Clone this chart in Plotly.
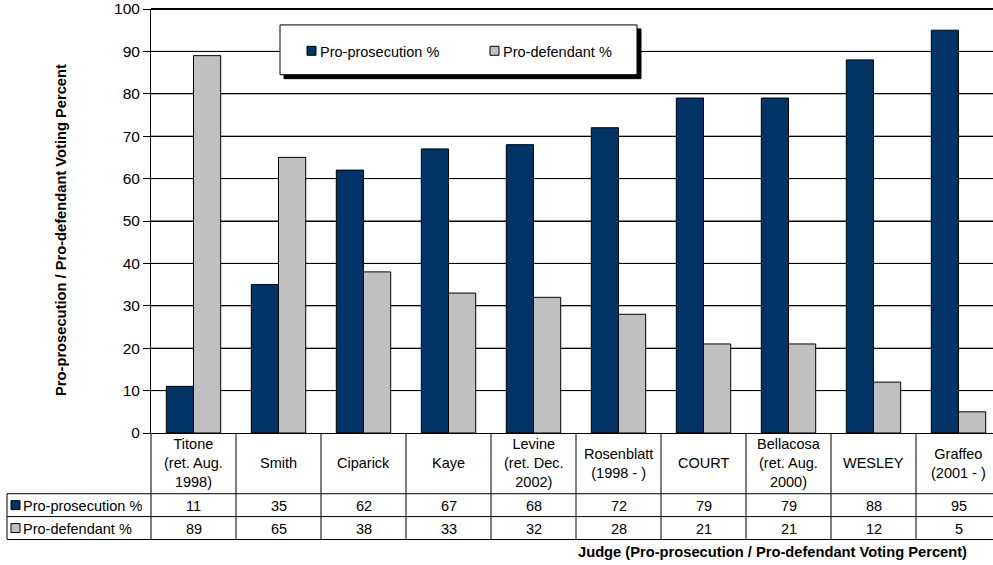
import plotly.graph_objects as go

# Judges and their voting percentages
judges = [
    "Titone<br>(ret. Aug.<br>1998)",
    "Smith",
    "Ciparick",
    "Kaye",
    "Levine<br>(ret. Dec.<br>2002)",
    "Rosenblatt<br>(1998 - )",
    "COURT",
    "Bellacosa<br>(ret. Aug.<br>2000)",
    "WESLEY",
    "Graffeo<br>(2001 - )",
]
pro_prosecution = [11, 35, 62, 67, 68, 72, 79, 79, 88, 95]
pro_defendant = [89, 65, 38, 33, 32, 28, 21, 21, 12, 5]
series_names = ["Pro-prosecution %", "Pro-defendant %"]
series_colors = ["#003366", "#C0C0C0"]
y_max, y_step = 100, 10

FONT = "Liberation Sans, Arial, sans-serif"
W, H = 993, 565
PL, PT, PB = 151, 7, 433          # plot area left / top / bottom in pixels
PR = W                            # plot area right edge
CAT_W = 85.0                      # pixel width of one category
BARGAP = 0.36
n = len(judges)
idx = list(range(n))
x_range = [-0.5, -0.5 + (PR - PL) / CAT_W]


def yp(py):
    """pixel row -> paper y"""
    return (PB - py) / (PB - PT)


def xp(px):
    """pixel column -> paper x"""
    return (px - PL) / (PR - PL)


def x_to_paper(x):
    """category coordinate -> paper x"""
    return (x - x_range[0]) / (x_range[1] - x_range[0])


fig = go.Figure()
for name, vals, col in zip(series_names, [pro_prosecution, pro_defendant], series_colors):
    fig.add_trace(go.Bar(
        x=idx, y=vals, name=name,
        marker=dict(color=col, line=dict(color="#000000", width=1)),
        showlegend=False,
    ))

shapes = []
annotations = []

# value gridlines, broken wherever a bar stands in front of them
half = (1 - BARGAP) / 2
for v in range(y_step, y_max + 1, y_step):
    covered = []
    for i in idx:
        if pro_prosecution[i] > v:
            covered.append((i - half, i))
        if pro_defendant[i] > v:
            covered.append((i, i + half))
    covered.sort()
    segs, start = [], x_range[0]
    for a, b in covered:
        if a > start:
            segs.append((start, a))
        start = max(start, b)
    if start < x_range[1]:
        segs.append((start, x_range[1]))
    for a, b in segs:
        shapes.append(dict(type="line", xref="paper", yref="paper", layer="above",
                           x0=x_to_paper(a), x1=x_to_paper(b), y0=v / y_max, y1=v / y_max,
                           line=dict(color="#000000", width=2 if v == y_max else 1)))

# data table rows (pixel rows)
ROW_HDR_TOP, ROW1_TOP, ROW2_TOP, TABLE_BOT = PB, 494, 517, 540
TABLE_LEFT = 7
line_style = dict(color="#000000", width=1)

# horizontal table lines
for py in (ROW1_TOP, ROW2_TOP, TABLE_BOT):
    shapes.append(dict(type="line", xref="paper", yref="paper",
                       x0=xp(TABLE_LEFT), x1=1.0, y0=yp(py), y1=yp(py), line=line_style))
# left border of table and row-header column
shapes.append(dict(type="line", xref="paper", yref="paper",
                   x0=xp(TABLE_LEFT), x1=xp(TABLE_LEFT), y0=yp(ROW1_TOP), y1=yp(TABLE_BOT), line=line_style))
shapes.append(dict(type="line", xref="paper", yref="paper",
                   x0=0, x1=0, y0=yp(ROW_HDR_TOP), y1=yp(TABLE_BOT), line=line_style))
# category column separators
for i in range(1, n):
    sx = x_to_paper(i - 0.5)
    shapes.append(dict(type="line", xref="paper", yref="paper",
                       x0=sx, x1=sx, y0=yp(ROW_HDR_TOP), y1=yp(TABLE_BOT), line=line_style))

tfont = dict(family=FONT, size=14.5, color="#000000")
# category labels and values
for i in idx:
    annotations.append(dict(x=i, xref="x", y=yp((ROW_HDR_TOP + ROW1_TOP) / 2), yref="paper",
                            text=judges[i], showarrow=False, font=tfont,
                            xanchor="center", yanchor="middle"))
    annotations.append(dict(x=i, xref="x", y=yp((ROW1_TOP + ROW2_TOP) / 2 + 1), yref="paper",
                            text=str(pro_prosecution[i]), showarrow=False, font=tfont,
                            xanchor="center", yanchor="middle"))
    annotations.append(dict(x=i, xref="x", y=yp((ROW2_TOP + TABLE_BOT) / 2 + 1), yref="paper",
                            text=str(pro_defendant[i]), showarrow=False, font=tfont,
                            xanchor="center", yanchor="middle"))

# row headers with legend keys
for r, (name, col) in enumerate(zip(series_names, series_colors)):
    top = ROW1_TOP if r == 0 else ROW2_TOP
    cy = top + 11.5
    shapes.append(dict(type="rect", xref="paper", yref="paper",
                       x0=xp(11), x1=xp(20), y0=yp(cy - 4.5), y1=yp(cy + 4.5),
                       fillcolor=col, line=dict(color="#000000", width=1)))
    annotations.append(dict(x=xp(21), xref="paper", y=yp(cy + 1), yref="paper",
                            text=name, showarrow=False, font=tfont,
                            xanchor="left", yanchor="middle"))

# legend box with drop shadow
LX0, LX1, LY0, LY1 = 280, 637, 23, 73
shapes.append(dict(type="rect", xref="paper", yref="paper", layer="above",
                   x0=xp(LX0 + 4), x1=xp(LX1 + 4), y0=yp(LY0 + 4), y1=yp(LY1 + 4),
                   fillcolor="#000000", line=dict(color="#000000", width=1)))
shapes.append(dict(type="rect", xref="paper", yref="paper", layer="above",
                   x0=xp(LX0), x1=xp(LX1), y0=yp(LY0), y1=yp(LY1),
                   fillcolor="#FFFFFF", line=dict(color="#000000", width=1)))
leg_cy = 49
for name, col, kx in zip(series_names, series_colors, (307, 490)):
    shapes.append(dict(type="rect", xref="paper", yref="paper", layer="above",
                       x0=xp(kx), x1=xp(kx + 9), y0=yp(leg_cy - 4.5), y1=yp(leg_cy + 4.5),
                       fillcolor=col, line=dict(color="#000000", width=1)))
    annotations.append(dict(x=xp(kx + 11), xref="paper", y=yp(leg_cy + 1), yref="paper",
                            text=name, showarrow=False, font=tfont,
                            xanchor="left", yanchor="middle"))

# axis titles
title_font = dict(family=FONT, size=14.7, color="#000000")
annotations.append(dict(x=xp(772), xref="paper", y=yp(553), yref="paper",
                        text="<b>Judge (Pro-prosecution / Pro-defendant Voting Percent)</b>",
                        showarrow=False, font=title_font,
                        xanchor="center", yanchor="middle"))
annotations.append(dict(x=xp(61), xref="paper", y=yp(229), yref="paper",
                        text="<b>Pro-prosecution / Pro-defendant Voting Percent</b>",
                        showarrow=False, textangle=-90, font=title_font,
                        xanchor="center", yanchor="middle"))

fig.update_layout(
    width=W, height=H,
    margin=dict(l=PL, r=W - PR, t=PT, b=H - PB, pad=0),
    paper_bgcolor="#FFFFFF", plot_bgcolor="#FFFFFF",
    barmode="group", bargap=BARGAP, bargroupgap=0,
    font=dict(family=FONT, color="#000000"),
    shapes=shapes, annotations=annotations,
    showlegend=False,
)
fig.update_xaxes(
    range=x_range,
    showticklabels=False, ticks="", showgrid=False, zeroline=False,
    showline=True, linecolor="#000000", linewidth=1,
)
fig.update_yaxes(
    range=[0, y_max], tickmode="linear", tick0=0, dtick=y_step,
    ticks="outside", ticklen=7, tickcolor="#000000",
    tickfont=dict(family=FONT, size=15.5, color="#000000"),
    ticklabeloverflow="allow",
    showgrid=True, gridcolor="#000000", gridwidth=1, zeroline=False,
    showline=True, linecolor="#000000", linewidth=1, mirror=False,
)

fig.write_html("out.html")
